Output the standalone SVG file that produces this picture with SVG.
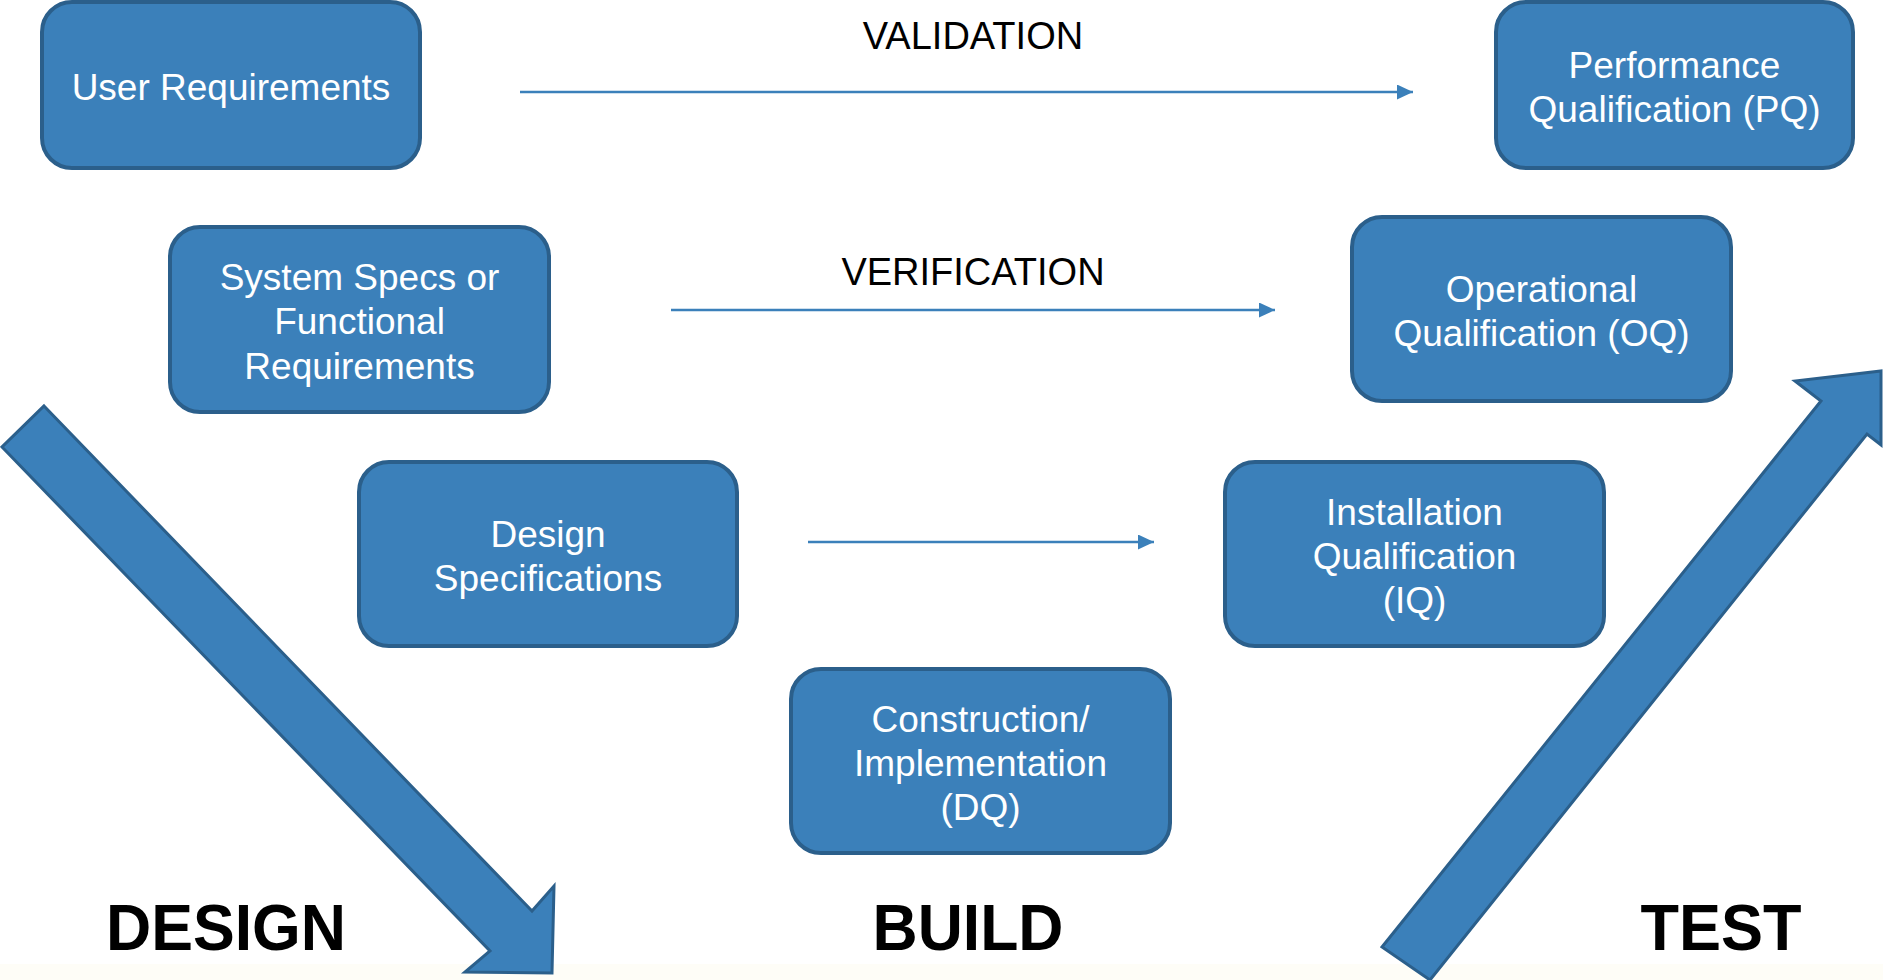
<svg xmlns="http://www.w3.org/2000/svg" width="1883" height="980" viewBox="0 0 1883 980">
  <defs>
    <style>
      .box { fill: #3b80ba; stroke: #2b5f8b; stroke-width: 4; }
      .boxtext { font-family: "Liberation Sans", Arial, sans-serif; font-size: 37px; fill: #ffffff; text-anchor: middle; }
      .label { font-family: "Liberation Sans", Arial, sans-serif; font-size: 38px; fill: #000000; text-anchor: middle; }
      .phase { font-family: "Liberation Sans", Arial, sans-serif; font-size: 64px; font-weight: bold; fill: #000000; text-anchor: middle; }
      .link { stroke: #3b80ba; stroke-width: 2.5; fill: none; marker-end: url(#head); }
      .bigarrow { fill: #3b80ba; stroke: #2b5f8b; stroke-width: 3; stroke-linejoin: miter; }
    </style>
    <marker id="head" viewBox="0 0 16 15" refX="16" refY="7.5" markerWidth="16" markerHeight="15" markerUnits="userSpaceOnUse" orient="auto">
      <path d="M0,0 L16,7.5 L0,15 Z" fill="#3b80ba"/>
    </marker>
  </defs>

  <rect x="0" y="0" width="1883" height="980" fill="#ffffff"/>
  <rect x="0" y="964" width="1883" height="16" fill="#fefdf7"/>

  <!-- phase arrows -->
  <g id="design-arrow">
    <polygon class="bigarrow" points="44,406 532,911 554,886 552,973 465,972 490,951 2,447"/>
  </g>
  <g id="test-arrow">
    <polygon class="bigarrow" points="1382,947 1821,401 1795,381 1881,371 1881,445 1867,434 1430,980"/>
  </g>

  <!-- links between the two sides -->
  <g id="connectors">
    <line class="link" x1="520" y1="92" x2="1413" y2="92"/>
    <line class="link" x1="671" y1="310" x2="1275" y2="310"/>
    <line class="link" x1="808" y1="542" x2="1154" y2="542"/>
    <text class="label" x="973" y="49">VALIDATION</text>
    <text class="label" x="973" y="285">VERIFICATION</text>
  </g>

  <g id="user-requirements">
    <rect class="box" x="42" y="2" width="378" height="166" rx="30"/>
    <text class="boxtext" x="231" y="99.5">User Requirements</text>
  </g>

  <g id="system-specs">
    <rect class="box" x="170" y="227" width="379" height="185" rx="30"/>
    <text class="boxtext" x="359.5" y="289.5">System Specs or</text>
    <text class="boxtext" x="359.5" y="334">Functional</text>
    <text class="boxtext" x="359.5" y="378.5">Requirements</text>
  </g>

  <g id="design-specs">
    <rect class="box" x="359" y="462" width="378" height="184" rx="30"/>
    <text class="boxtext" x="548" y="546.5">Design</text>
    <text class="boxtext" x="548" y="590.5">Specifications</text>
  </g>

  <g id="construction">
    <rect class="box" x="791" y="669" width="379" height="184" rx="30"/>
    <text class="boxtext" x="980.5" y="731.5">Construction/</text>
    <text class="boxtext" x="980.5" y="775.5">Implementation</text>
    <text class="boxtext" x="980.5" y="819.5">(DQ)</text>
  </g>

  <g id="installation-qualification">
    <rect class="box" x="1225" y="462" width="379" height="184" rx="30"/>
    <text class="boxtext" x="1414.5" y="524.5">Installation</text>
    <text class="boxtext" x="1414.5" y="568.5">Qualification</text>
    <text class="boxtext" x="1414.5" y="612.5">(IQ)</text>
  </g>

  <g id="operational-qualification">
    <rect class="box" x="1352" y="217" width="379" height="184" rx="30"/>
    <text class="boxtext" x="1541.5" y="301.5">Operational</text>
    <text class="boxtext" x="1541.5" y="345.5">Qualification (OQ)</text>
  </g>

  <g id="performance-qualification">
    <rect class="box" x="1496" y="2" width="357" height="166" rx="30"/>
    <text class="boxtext" x="1674.5" y="77.5">Performance</text>
    <text class="boxtext" x="1674.5" y="121.5">Qualification (PQ)</text>
  </g>

  <!-- phase captions -->
  <g id="captions">
    <text class="phase" x="226" y="950" textLength="240" lengthAdjust="spacingAndGlyphs">DESIGN</text>
    <text class="phase" x="968" y="950" textLength="191" lengthAdjust="spacingAndGlyphs">BUILD</text>
    <text class="phase" x="1721" y="950" textLength="161" lengthAdjust="spacingAndGlyphs">TEST</text>
  </g>
</svg>
